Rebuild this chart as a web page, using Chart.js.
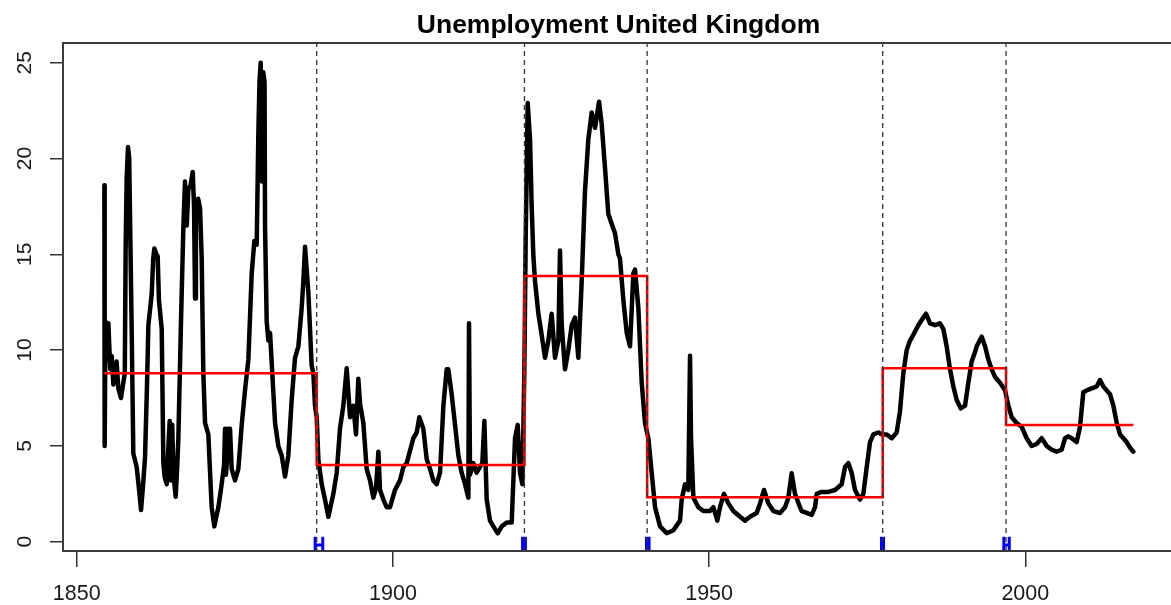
<!DOCTYPE html>
<html lang="en">
<head>
  <meta charset="UTF-8" />
  <title>Unemployment United Kingdom</title>
  <script src="https://cdn.jsdelivr.net/npm/chart.js"></script>
  <style>
    html,body{margin:0;padding:0;background:#fff;overflow:hidden;}
    canvas{display:block;}
  </style>
</head>
<body>
<canvas id="chart" width="1175" height="605"></canvas>
<script>
// ── values ──────────────────────────────────────────────────────────────
const years = [
  1854.37,1854.42,1854.55,1854.74,1855.0,1855.3,1855.53,1855.8,1856.06,1856.3,1856.58,1857.0,1857.37,1857.6,
  1857.74,1857.9,1858.11,1858.3,1858.43,1858.69,1858.95,1859.48,1859.9,1860.17,1860.5,1860.8,1861.1,1861.33,
  1861.85,1862.1,1862.28,1862.6,1862.8,1863.0,1863.44,1863.7,1863.9,1864.23,1864.5,1864.7,1864.9,1865.1,1865.3,
  1865.65,1865.9,1866.07,1866.49,1866.86,1867.12,1867.4,1867.65,1868.0,1868.34,1868.55,1868.71,1868.85,1869.2,
  1869.5,1869.76,1870.02,1870.29,1870.81,1871.34,1871.76,1872.0,1872.4,1872.92,1873.3,1873.45,1873.6,1873.71,
  1874.0,1874.24,1874.5,1875.03,1875.56,1876.09,1876.61,1877.14,1877.67,1878.09,1878.46,1878.72,1878.9,1879.09,
  1879.3,1879.5,1879.7,1879.78,1880.04,1880.3,1880.57,1881.36,1881.88,1882.41,1882.94,1883.46,1883.99,1884.52,
  1885.05,1885.57,1885.84,1886.1,1886.63,1887.15,1887.42,1887.68,1887.95,1888.21,1888.74,1889.26,1889.79,
  1890.58,1891.11,1891.63,1892.16,1892.69,1893.22,1893.74,1894.16,1894.53,1894.8,1895.32,1895.85,1896.38,
  1896.9,1897.33,1897.7,1897.96,1898.49,1899.01,1899.54,1900.33,1901.12,1901.65,1902.18,1903.23,1903.76,
  1904.18,1904.81,1905.34,1905.87,1906.39,1906.92,1907.45,1907.98,1908.5,1908.76,1909.29,1909.82,1910.35,
  1910.87,1911.4,1911.93,1912.03,1912.19,1912.72,1913.24,1913.77,1914.14,1914.46,1914.83,1915.35,1915.88,
  1916.57,1917.2,1917.99,1918.78,1919.31,1919.73,1920.1,1920.47,1920.78,1920.99,1921.31,1921.68,1921.94,
  1922.21,1922.47,1923.0,1923.52,1924.05,1924.58,1925.1,1925.63,1926.16,1926.42,1926.69,1927.21,1927.74,
  1928.27,1928.79,1929.32,1929.85,1930.37,1930.9,1931.43,1931.96,1932.59,1933.01,1933.54,1934.06,1934.59,
  1935.12,1935.65,1935.9,1936.44,1936.97,1937.49,1938.02,1938.28,1938.81,1939.34,1939.86,1940.39,1940.92,
  1941.45,1942.24,1943.29,1944.35,1945.4,1945.66,1946.19,1946.71,1946.98,1947.14,1947.51,1948.3,1949.09,
  1950.14,1950.67,1951.3,1951.72,1952.35,1953.04,1953.83,1954.89,1955.68,1956.47,1957.52,1958.05,1958.68,
  1959.37,1960.16,1961.21,1962.0,1962.53,1963.05,1963.58,1964.37,1964.64,1965.43,1966.22,1966.75,1967.01,
  1967.8,1968.85,1969.91,1970.96,1971.49,1972.02,1972.54,1973.07,1973.86,1974.39,1974.92,1975.44,1975.97,
  1976.76,1977.29,1978.08,1978.87,1979.66,1980.18,1980.71,1981.24,1981.77,1982.29,1983.08,1983.87,1984.3,
  1984.93,1985.72,1986.51,1987.04,1987.56,1988.09,1988.62,1989.15,1989.78,1990.47,1990.99,1991.52,1992.05,
  1992.31,1993.1,1993.63,1994.16,1994.68,1995.21,1996.0,1996.79,1997.32,1997.84,1998.63,1999.42,2000.21,
  2001.0,2001.8,2002.59,2003.38,2004.17,2004.96,2005.75,2006.28,2006.8,2007.33,2008.12,2008.65,2009.17,
  2009.7,2010.49,2011.28,2011.81,2012.34,2012.86,2013.39,2013.92,2014.45,2014.98,2015.5,2016.03,2016.56,2017.09
];
const rates = [
  18.6,5.0,11.5,9.5,11.4,9.0,9.7,8.2,8.6,9.4,8.0,7.5,8.3,8.8,
  15.4,19.0,20.6,20.0,16.9,11.1,4.6,3.9,2.6,1.65,3.0,4.4,8.0,11.3,
  12.9,14.8,15.3,15.0,14.9,12.6,11.1,4.1,3.4,3.0,5.0,6.3,3.2,6.1,3.5,
  2.35,4.0,5.4,11.5,16.4,18.8,16.5,18.4,18.6,19.3,17.5,12.7,17.2,17.9,
  17.4,14.8,8.8,6.2,5.6,1.8,0.8,1.2,1.8,3.0,4.0,5.9,3.5,4.0,
  5.9,5.9,3.8,3.2,3.8,6.1,7.9,9.5,14.0,15.7,15.5,21.3,24.0,25.0,
  18.8,24.5,24.0,16.4,11.5,10.5,10.9,6.2,5.0,4.5,3.4,4.5,7.4,9.6,
  10.2,12.2,13.6,15.4,13.0,9.2,8.8,7.1,6.5,4.3,3.0,2.2,1.3,
  2.5,3.6,5.9,7.1,9.05,6.5,7.1,5.6,8.5,7.2,6.2,3.8,3.2,
  2.3,2.8,4.7,2.7,2.2,1.8,1.8,2.7,3.2,3.9,4.1,5.4,5.7,
  6.5,5.9,4.3,3.8,3.2,3.0,3.6,7.1,9.0,9.0,7.7,6.1,4.5,
  3.6,3.0,2.3,11.4,3.5,4.1,3.6,3.9,4.1,6.3,2.2,1.1,0.8,
  0.44,0.8,1.0,1.0,5.4,6.1,3.6,3.0,8.8,15.7,22.9,21.0,17.5,
  14.9,13.6,11.9,10.8,9.6,10.5,11.9,9.6,10.5,15.2,11.3,9.0,10.0,
  11.3,11.7,9.6,13.6,18.3,21.0,22.4,21.6,22.96,21.8,19.5,17.1,16.6,
  16.1,15.0,14.8,12.6,10.9,10.2,14.0,14.2,12.2,8.3,6.2,5.4,3.6,
  1.8,0.8,0.44,0.6,1.1,2.2,3.0,2.7,9.7,5.4,2.3,1.8,1.6,
  1.6,1.8,1.1,1.8,2.5,2.0,1.6,1.3,1.1,1.3,1.5,2.0,2.7,
  2.0,1.6,1.5,1.8,2.3,3.57,2.5,1.8,1.6,1.5,1.4,1.8,2.5,
  2.6,2.6,2.7,3.0,3.9,4.1,3.6,2.7,2.2,2.5,3.9,5.2,5.6,
  5.7,5.6,5.6,5.4,5.7,6.8,8.8,10.0,10.5,10.8,11.3,11.7,11.9,
  11.4,11.3,11.4,11.1,10.2,9.0,8.1,7.4,6.96,7.1,8.3,9.4,9.9,
  10.2,10.7,10.2,9.5,9.0,8.6,8.3,7.9,7.1,6.5,6.2,6.0,5.4,
  5.0,5.1,5.4,5.0,4.8,4.7,4.8,5.4,5.5,5.4,5.2,6.0,7.8,
  7.9,8.0,8.1,8.44,8.1,7.9,7.7,7.1,6.2,5.6,5.4,5.2,4.9,4.7
];
const breakYears = [1887.95, 1920.8, 1940.2, 1977.45, 1996.95];
const segMeans   = [8.79, 4.0, 13.87, 2.32, 9.05, 6.09];
const ciLow      = [1887.7, 1920.5, 1940.1, 1977.26, 1996.6];
const ciHigh     = [1888.9, 1920.95, 1940.5, 1977.58, 1997.46];
const xTicks = [1850, 1900, 1950, 2000];
const yTicks = [0, 5, 10, 15, 20, 25];

const X_MIN = 1847.83, X_MAX = 2023.51;
const Y_MIN = -0.485, Y_MAX = 26.03;

// ── build point lists ────────────────────────────────────────────────────
const seriesPts = years.map((x, i) => ({x, y: rates[i]}));

const edges = [years[0], ...breakYears, years[years.length - 1]];
const stepPts = [];
segMeans.forEach((m, i) => { stepPts.push({x: edges[i], y: m}, {x: edges[i + 1], y: m}); });

const vlinePts = [];
breakYears.forEach(b => { vlinePts.push({x: b, y: Y_MIN}, {x: b, y: Y_MAX}, {x: b, y: null}); });

const ciPts = [];
ciLow.forEach((lo, i) => {
  const hi = ciHigh[i];
  ciPts.push({x: lo, y: 0.26}, {x: lo, y: Y_MIN}, {x: lo, y: null});
  ciPts.push({x: hi, y: 0.26}, {x: hi, y: Y_MIN}, {x: hi, y: null});
  ciPts.push({x: lo, y: -0.17}, {x: hi, y: -0.17}, {x: hi, y: null});
});

const FONT = '"Liberation Sans", Arial, sans-serif';

// box, title and rotated y labels (R style)
const decor = {
  id: 'decor',
  afterDraw(chart) {
    const {ctx, chartArea: a, scales} = chart;
    ctx.save();
    ctx.strokeStyle = '#3a3a3a';
    ctx.lineWidth = 2;
    ctx.strokeRect(a.left, a.top, a.right - a.left, a.bottom - a.top);

    ctx.fillStyle = '#000';
    ctx.font = 'bold 26.5px ' + FONT;
    ctx.textAlign = 'center';
    ctx.textBaseline = 'alphabetic';
    ctx.fillText('Unemployment United Kingdom', (a.left + a.right) / 2, 33);

    ctx.font = '21px ' + FONT;
    ctx.fillStyle = '#1a1a1a';
    ctx.textBaseline = 'middle';
    yTicks.forEach(v => {
      const py = scales.y.getPixelForValue(v);
      ctx.save();
      ctx.translate(25, py);
      ctx.rotate(-Math.PI / 2);
      ctx.fillText(String(v), 0, 0);
      ctx.restore();
    });
    ctx.restore();
  }
};

new Chart(document.getElementById('chart'), {
  type: 'line',
  data: {
    datasets: [
      {data: vlinePts, borderColor: '#333', borderWidth: 1.3, borderDash: [5, 4], spanGaps: false},
      {data: ciPts, borderColor: '#0000ff', borderWidth: 3, spanGaps: false},
      {data: stepPts, borderColor: '#ff0000', borderWidth: 2.6},
      {data: seriesPts, borderColor: '#000', borderWidth: 4.5, borderJoinStyle: 'round', borderCapStyle: 'round'}
    ]
  },
  options: {
    responsive: false,
    animation: false,
    layout: {padding: {top: 43, right: 1, left: 0, bottom: 0}},
    elements: {point: {radius: 0}, line: {tension: 0}},
    plugins: {legend: {display: false}, tooltip: {enabled: false}, title: {display: false}},
    scales: {
      x: {
        type: 'linear', min: X_MIN, max: X_MAX,
        afterBuildTicks: s => { s.ticks = xTicks.map(v => ({value: v})); },
        afterFit: s => { s.height = 54; },
        border: {display: false},
        grid: {display: true, drawOnChartArea: false, drawTicks: true, tickLength: 16, color: '#333', lineWidth: 1.5},
        ticks: {font: {family: FONT, size: 21.5}, color: '#1a1a1a', padding: 14, maxRotation: 0, autoSkip: false,
                callback: v => String(v)}
      },
      y: {
        type: 'linear', min: Y_MIN, max: Y_MAX,
        afterBuildTicks: s => { s.ticks = yTicks.map(v => ({value: v})); },
        afterFit: s => { s.width = 63; },
        border: {display: false},
        grid: {display: true, drawOnChartArea: false, drawTicks: true, tickLength: 13, color: '#333', lineWidth: 1.5},
        ticks: {display: false}
      }
    }
  },
  plugins: [decor]
});
</script>
</body>
</html>
